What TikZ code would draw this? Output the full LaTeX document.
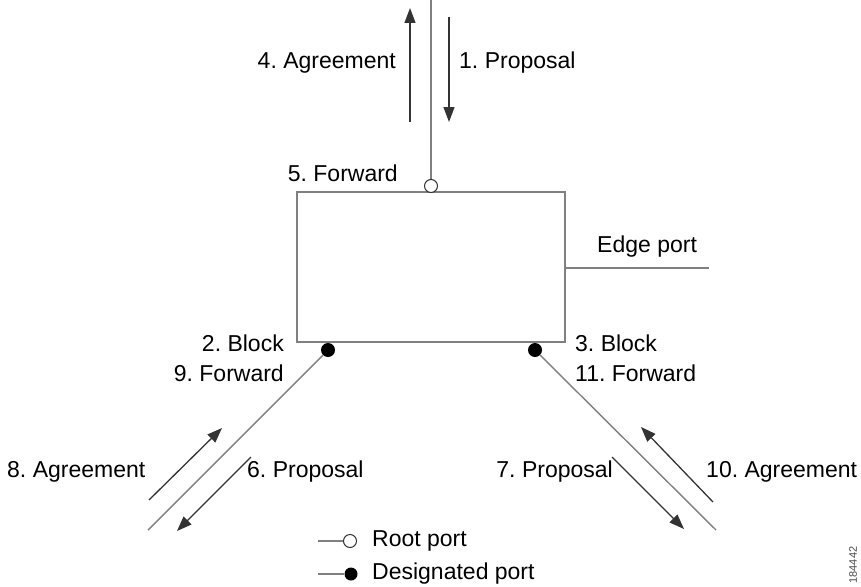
\documentclass[tikz,border=0pt]{standalone}
\usepackage{fontspec}
\setmainfont{Liberation Sans}
\usetikzlibrary{arrows.meta,positioning}
\frenchspacing

\tikzset{
    wire/.style={draw=black!50,line width=1.4pt},
    msg/.style={draw=black!80,line width=1.3pt,-{Triangle[length=15pt,width=11pt]}},
    rootport/.style={circle,draw=black!80,fill=white,line width=1pt,inner sep=0pt,minimum size=13pt},
    desport/.style={circle,fill=black,inner sep=0pt,minimum size=14pt},
    txt/.style={inner sep=0pt,font=\fontsize{23}{27}\selectfont}
}

\begin{document}
\begin{tikzpicture}[x=1pt,y=-1pt]
    \useasboundingbox[fill=white] (0,0) rectangle (861,586);

    % switch and ports
    \node[wire,draw,minimum width=268pt,minimum height=150pt,inner sep=0pt] (switch) at (431,267) {};
    \coordinate (top) at (431,0);
    \coordinate (edgeEnd) at (709,268);
    \coordinate (edgeStart) at (switch.east |- edgeEnd);
    \coordinate (leftEnd) at (148,530);
    \coordinate (rightEnd) at (716,530);

    \draw[wire] (top) -- (431,180);
    \draw[wire] (edgeStart) -- (edgeEnd);
    \node[desport] (leftPort) at (328,350) {};
    \node[desport] (rightPort) at (535,350) {};
    \draw[wire] (leftPort) -- (leftEnd);
    \draw[wire] (rightPort) -- (rightEnd);
    \node[rootport] (upPort) at (431,186) {};

    % messages
    \coordinate (agreeUpTail) at (410,122);
    \coordinate (agreeUpTip) at (410,8);
    \coordinate (propDownTail) at (449,17);
    \coordinate (propDownTip) at (449,122);
    \draw[msg] (agreeUpTail) -- (agreeUpTip);
    \draw[msg] (propDownTail) -- (propDownTip);

    \coordinate (agreeLeftTail) at (149,500);
    \coordinate (agreeLeftTip) at (222,428);
    \coordinate (propLeftTail) at (251,457);
    \coordinate (propLeftTip) at (177,531);
    \draw[msg] (agreeLeftTail) -- (agreeLeftTip);
    \draw[msg] (propLeftTail) -- (propLeftTip);

    \coordinate (agreeRightTail) at (713,502);
    \coordinate (agreeRightTip) at (641,427);
    \coordinate (propRightTail) at (612,457);
    \coordinate (propRightTip) at (684,529);
    \draw[msg] (agreeRightTail) -- (agreeRightTip);
    \draw[msg] (propRightTail) -- (propRightTip);

    % labels
    \node[txt,anchor=east] (agreeUp) at (396,63) {4. Agreement};
    \node[txt,anchor=west] (propDown) at (459,63) {1. Proposal};
    \node[txt,anchor=east] (forwardUp) at (398,173) {5. Forward};
    \node[txt,anchor=west] (edge) at (597,247) {Edge port};
    \node[txt,anchor=east] (blockLeft) at (284,343) {2. Block};
    \node[txt,anchor=east] (forwardLeft) at (284,373) {9. Forward};
    \node[txt,anchor=west] (blockRight) at (575,343) {3. Block};
    \node[txt,anchor=west] (forwardRight) at (575,373) {11. Forward};
    \node[txt,anchor=west] (agreeLeft) at (7,472) {8. Agreement};
    \node[txt,anchor=west] (propLeft) at (247,472) {6. Proposal};
    \node[txt,anchor=east] (propRight) at (613,472) {7. Proposal};
    \node[txt,anchor=west] (agreeRight) at (706,472) {10. Agreement};

    % legend
    \coordinate (rootKeyStart) at (318,541);
    \coordinate (desKeyStart) at (318,574);
    \node[rootport] (rootKey) at (350,541) {};
    \node[desport,minimum size=13pt] (desKey) at (351,574) {};
    \draw[wire] (rootKeyStart) -- (rootKey);
    \draw[wire] (desKeyStart) -- (desKey);
    \node[txt,anchor=west] (rootText) at (372,541) {Root port};
    \node[txt,anchor=west] (desText) at (372,574) {Designated port};

    \node[inner sep=0pt,rotate=90,font=\fontsize{11}{13}\selectfont,text=black!70] (figId) at (853,565) {184442};
\end{tikzpicture}
\end{document}
